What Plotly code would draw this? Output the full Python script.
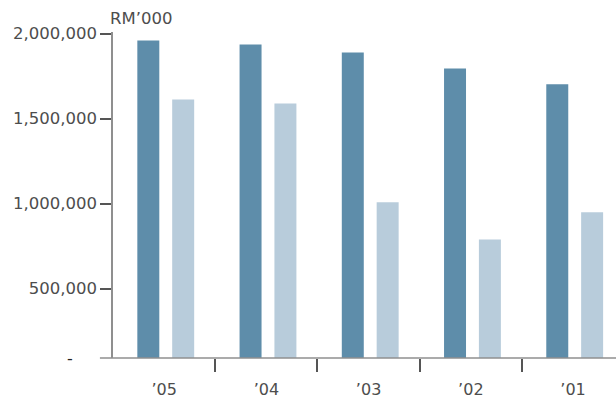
import plotly.graph_objects as go

categories = ["’05", "’04", "’03", "’02", "’01"]
series_dark = [1960000, 1937000, 1890000, 1796000, 1702000]
series_light = [1613000, 1590000, 1008000, 790000, 949000]
y_tickvals = [500000, 1000000, 1500000, 2000000]
y_ticktext = ["500,000", "1,000,000", "1,500,000", "2,000,000"]
unit_label = "RM’000"
zero_label = "-"

DARK = "#5E8DAA"
LIGHT = "#B8CCDB"
AXIS = "#8f8f8f"
TICK = "#555555"
TEXT = "#4d4d4d"
FONT = "DejaVu Sans"

xpos = list(range(len(categories)))
W = 0.215

fig = go.Figure()
fig.add_trace(go.Bar(x=xpos, y=series_dark, marker=dict(color=DARK, line=dict(width=0)),
                     width=W, offset=-0.262, xaxis="x", yaxis="y"))
fig.add_trace(go.Bar(x=xpos, y=series_light, marker=dict(color=LIGHT, line=dict(width=0)),
                     width=W, offset=0.079, xaxis="x", yaxis="y"))

xr = [-0.5, 4.42]
fig.update_layout(
    width=616, height=403,
    margin=dict(l=113, r=0, t=32, b=45),
    plot_bgcolor="white", paper_bgcolor="white",
    showlegend=False, barmode="overlay",
    font=dict(family=FONT, size=16, color=TEXT),
    xaxis=dict(range=xr, tickmode="array", tickvals=xpos, ticktext=categories,
               showgrid=False, zeroline=False, showline=False, ticks="",
               ticklabelstandoff=20, tickfont=dict(family=FONT, size=16, color=TEXT)),
    xaxis2=dict(range=xr, overlaying="x", anchor="y", side="bottom",
                tickmode="array", tickvals=[0.5, 1.5, 2.5, 3.5],
                showticklabels=False, ticks="outside", ticklen=13, tickwidth=2,
                tickcolor=TICK, showgrid=False, zeroline=False, showline=False),
    yaxis=dict(range=[92353, 2010000], tickmode="array", tickvals=y_tickvals,
               ticktext=y_ticktext, showgrid=False, zeroline=False,
               showline=True, linecolor=AXIS, linewidth=1.5,
               ticks="outside", ticklen=11, tickwidth=2, tickcolor=TICK,
               tickfont=dict(family=FONT, size=16.5, color=TEXT)),
)
# invisible trace to activate xaxis2
fig.add_trace(go.Scatter(x=[0], y=[None], xaxis="x2", yaxis="y", showlegend=False,
                         hoverinfo="skip", mode="markers"))

# x-axis baseline extending slightly left of the y-axis
fig.add_shape(type="line", xref="paper", yref="paper", x0=-0.026, x1=1, y0=0, y1=0,
              line=dict(color=AXIS, width=1.5), layer="above")

fig.add_annotation(text=unit_label, xref="paper", yref="paper", x=-0.01, y=1.042,
                   xanchor="left", yanchor="middle", showarrow=False,
                   font=dict(family=FONT, size=16.5, color=TEXT))
fig.add_annotation(text=zero_label, xref="paper", yref="paper", x=(70 - 113) / 503, y=0,
                   xanchor="center", yanchor="middle", showarrow=False,
                   font=dict(family=FONT, size=16, color="#222222"))

fig.write_html("out.html")
